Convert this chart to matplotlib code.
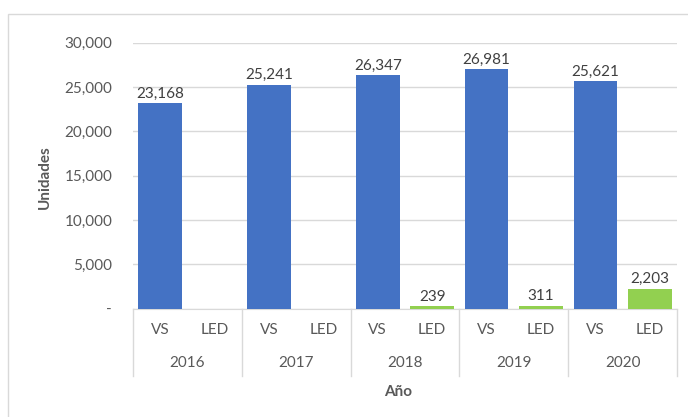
import matplotlib.pyplot as plt
from matplotlib.patches import Rectangle
from matplotlib.ticker import FuncFormatter
import matplotlib.transforms as mtransforms

years = ["2016", "2017", "2018", "2019", "2020"]
series = ["VS", "LED"]
vs_values = [23168, 25241, 26347, 26981, 25621]
led_values = [None, None, 239, 311, 2203]
y_ticks = [0, 5000, 10000, 15000, 20000, 25000, 30000]

blue = "#4472C4"
green = "#92D050"
text_gray = "#595959"
grid_gray = "#D9D9D9"

plt.rcParams["font.family"] = ["Lato", "DejaVu Sans"]

fig = plt.figure(figsize=(6.88, 4.17), dpi=100)
fig.patches.append(
    Rectangle((8 / 688, -0.1), 1.2, 1 - 14 / 417 + 0.1, transform=fig.transFigure,
              facecolor="none", edgecolor=grid_gray, linewidth=1)
)
ax = fig.add_axes([133 / 688, 1 - 308.5 / 417, (677 - 133) / 688, (308.5 - 42.7) / 417])

n = len(years) * len(series)
ax.set_xlim(0, n)
ax.set_ylim(0, 30000)

for i, year in enumerate(years):
    for j, (name, vals, color) in enumerate(
        [("VS", vs_values, blue), ("LED", led_values, green)]
    ):
        v = vals[i]
        x = i * 2 + j + 0.5
        if v is None:
            continue
        ax.bar(x, v, width=0.8, color=color, zorder=3)
        ax.text(x, v + 300, f"{v:,}", ha="center", va="bottom", fontsize=11,
                color="#404040")

ax.set_yticks(y_ticks)
ax.yaxis.set_major_formatter(FuncFormatter(lambda v, p: "-" if v == 0 else f"{int(v):,}"))
ax.tick_params(axis="y", length=0, pad=15, labelsize=11, labelcolor=text_gray)
ax.set_xticks([])
ax.grid(axis="y", color=grid_gray, linewidth=1, zorder=0)
for side in ["top", "right", "left"]:
    ax.spines[side].set_visible(False)
ax.spines["bottom"].set_color(grid_gray)

# two-level category axis
trans = mtransforms.blended_transform_factory(ax.transData, fig.transFigure)
sep_top = 1 - 308.5 / 417
sep_bot = 1 - 376 / 417
for k in range(len(years) + 1):
    ax.plot([k * 2, k * 2], [sep_top, sep_bot], transform=trans, color=grid_gray,
            linewidth=1, clip_on=False)
for i, year in enumerate(years):
    for j, name in enumerate(series):
        ax.text(i * 2 + j + 0.5, 1 - 330 / 417, name, transform=trans, ha="center",
                va="center", fontsize=11, color=text_gray)
    ax.text(i * 2 + 1, 1 - 363 / 417, year, transform=trans, ha="center",
            va="center", fontsize=11, color=text_gray)

fig.text(398 / 688, 1 - 392 / 417, "Año", ha="center", va="center", fontsize=11,
         fontweight="bold", color=text_gray)
fig.text(45 / 688, 1 - 177 / 417, "Unidades", ha="center", va="center", fontsize=11,
         fontweight="bold", color=text_gray, rotation=90)

fig.savefig("out.png", dpi=100)
